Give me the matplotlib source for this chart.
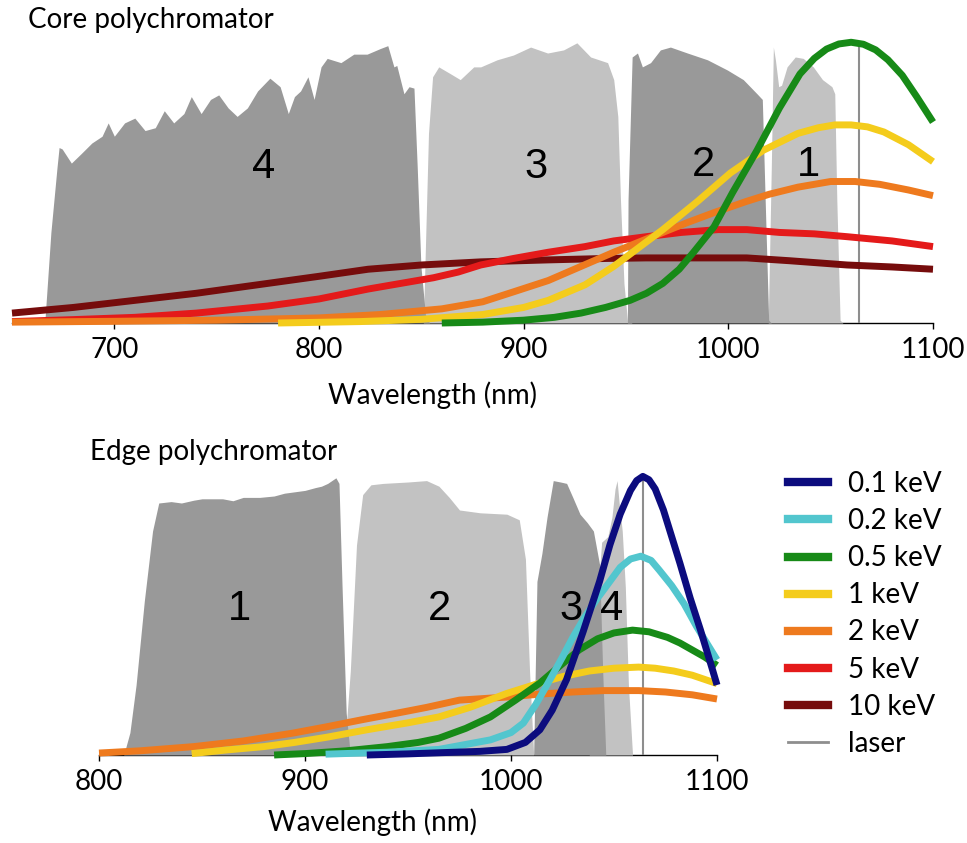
import matplotlib
matplotlib.use("Agg")
import matplotlib.pyplot as plt
from matplotlib.lines import Line2D

plt.rcParams['font.family'] = ['Lato', 'DejaVu Sans']

# ---- core polychromator (top) ----
core_f4_nm = [666, 669, 672, 673, 674.5, 679, 684, 689, 694, 697, 700, 705, 710, 715, 720, 724.4, 729, 734,
              737.6, 742.4, 747, 751, 755.6, 760, 765, 770, 776, 781, 785, 788, 791, 794.6, 797.6, 801, 804,
              810.7, 817, 823.5, 830, 833.6, 836.6, 838, 841.5, 844, 846.4, 848, 849.8, 852, 854]
core_f4_v = [0, 32, 55, 62, 61.5, 56.5, 60, 63.6, 66, 70.7, 66, 70.7, 72.4, 68, 69, 75, 70.7, 74,
             80, 74, 79, 80.6, 76, 73, 76, 82, 86.5, 83.5, 74, 80, 82, 87, 79, 90.5, 93.5,
             92, 95, 95, 97, 98, 90.5, 91, 81, 83.5, 83, 55, 20, 3, 0]

core_f3_nm = [851, 853.5, 855.5, 858.5, 864.4, 869, 875.6, 879, 887, 895, 903.4, 911.7, 919.5, 926, 932.7,
              941, 944, 946, 947.3, 949, 950.7, 953]
core_f3_v = [0, 67, 87, 90.5, 88, 86, 90.5, 90.5, 93, 94.7, 97.5, 95.4, 96.5, 99, 94,
             92, 86, 73, 43.5, 14, 1, 0]

core_f2_nm = [950.7, 951, 953, 955.6, 958, 962, 966.8, 971.7, 980, 989.8, 999.5, 1007.3, 1014, 1016.6,
              1018, 1019.7, 1021]
core_f2_v = [0, 43.5, 94, 95.4, 90.5, 92, 96.5, 97.5, 95.4, 93, 89.4, 86, 81, 79,
             43.5, 1, 0]

core_f1_nm = [1019.5, 1021, 1022, 1023, 1024.6, 1026, 1028.7, 1032.7, 1036.6, 1041.5, 1046, 1050.6, 1052,
              1053, 1054.6, 1056]
core_f1_v = [0, 55, 97.5, 93, 83.5, 84, 90.5, 94, 93.5, 90.5, 86, 83.5, 81,
             43.5, 1, 0]

core_labels = ['4', '3', '2', '1']
core_label_nm = [772.7, 905.8, 987.8, 1039]
core_label_v = [55, 55, 56, 56]

green_core_nm = [860, 880, 900, 915, 928, 940, 952, 960, 968, 976, 983, 993, 1002, 1014, 1025, 1035, 1042,
                 1048, 1054, 1060, 1066, 1072, 1078, 1085, 1092, 1100]
green_core_v = [0, 0.3, 1, 2, 3.5, 5.5, 8, 10.5, 14, 19, 25, 34, 46, 61, 76, 88, 93.5,
                96.8, 98.6, 99.2, 98.5, 96.5, 93, 87.5, 80, 71]

yellow_core_nm = [780, 820, 850, 880, 900, 912, 930, 944, 956, 968, 985, 1001, 1017, 1034, 1044, 1052, 1060,
                  1068, 1076, 1088, 1100]
yellow_core_v = [0, 0.5, 1.3, 3, 5.5, 8, 13.5, 20, 26.5, 33, 43, 53, 61, 67, 69, 70, 70,
                 69.3, 67.5, 63, 57]

orange_core_nm = [650, 700, 750, 800, 830, 860, 880, 895, 912, 928, 944, 956, 968, 980, 993, 1009, 1020,
                  1034, 1050, 1062, 1074, 1088, 1100]
orange_core_v = [0.3, 0.6, 1, 1.8, 3, 5, 7.5, 11, 15, 20, 25, 28.5, 32, 35.5, 39, 43, 45.5,
                 48, 50, 50, 49, 47, 45]

red_core_nm = [650, 680, 710, 740, 775, 800, 824, 840, 856, 868, 879, 895, 912, 930, 944, 960, 977, 995,
               1009, 1025, 1042, 1058, 1080, 1100]
red_core_v = [0.5, 1.2, 2, 3.5, 6, 8.5, 12, 14, 16, 18, 20.5, 22.8, 25, 27, 29, 30.5, 32, 33,
              33, 32, 31.5, 30.5, 29, 27]

darkred_core_nm = [650, 680, 710, 740, 775, 800, 824, 850, 879, 912, 940, 960, 985, 1009, 1030, 1058, 1080, 1100]
darkred_core_v = [3.5, 5.5, 8, 10.5, 14, 16.5, 19, 20.5, 21.6, 22.3, 22.8, 23, 23, 23, 22, 20.5, 19.8, 19]

# ---- edge polychromator (bottom) ----
edge_f1_nm = [812, 815, 818, 822, 826, 829, 835, 840, 846, 850, 860, 865, 870, 878, 885, 890, 895, 900,
              905, 908, 911, 915, 916.5, 918, 920, 922]
edge_f1_v = [0, 8, 25, 55, 80, 90, 90.5, 90, 91, 91.5, 91.5, 90.8, 92, 92, 92.5, 93.5, 94, 94.5,
             95.5, 96, 97, 99, 97, 60, 15, 0]

edge_f2_nm = [919, 922, 925, 928, 932, 938, 950, 959, 965, 970, 975, 985, 998, 1004, 1007, 1009, 1011]
edge_f2_v = [0, 30, 75, 93, 96.5, 97, 97.5, 98, 96, 92, 87.5, 86.5, 86, 84, 70, 30, 0]

edge_f3_nm = [1011, 1012.6, 1015, 1017.5, 1020.5, 1024, 1027, 1030, 1033.5, 1037, 1040, 1043, 1044.5, 1046]
edge_f3_v = [0, 62, 72, 85, 98, 97.5, 97, 92, 86, 83, 80, 68, 30, 0]

edge_f4_nm = [1038, 1041, 1044, 1047, 1049, 1050.5, 1051.5, 1052.5, 1054, 1055.5, 1057, 1059]
edge_f4_v = [0, 45, 76, 78, 85, 95, 98, 90, 80, 60, 25, 0]

edge_labels = ['1', '2', '3', '4']
edge_label_nm = [868.4, 965.5, 1029, 1049]
edge_label_v = [52, 52, 52, 52]

navy_edge_nm = [930, 950, 965, 985, 998, 1007, 1014, 1020, 1027, 1035, 1043, 1048, 1053, 1058, 1061, 1064,
                1067, 1070, 1074, 1078, 1082, 1087, 1092, 1098, 1100]
navy_edge_v = [0, 0.4, 0.8, 1.3, 2, 4.5, 9, 16, 27, 44, 62, 75, 86, 94.5, 98, 99.5,
               98.3, 95, 87.5, 78, 68.5, 56, 44.6, 30, 25]

cyan_edge_nm = [910, 940, 965, 990, 1000, 1006, 1012, 1019, 1025, 1030, 1036, 1042, 1048, 1053, 1058, 1063,
                1068, 1072, 1078, 1084, 1090, 1095, 1100]
cyan_edge_v = [0.3, 1, 2, 5.4, 8, 11.4, 18, 27, 35, 42, 49.5, 56, 62, 67, 70, 71,
               69.5, 66, 60.5, 54, 46, 40, 34]

green_edge_nm = [885, 900, 920, 940, 955, 965, 978, 990, 1002, 1014, 1024, 1033, 1042, 1050, 1059, 1067,
                 1076, 1082, 1088, 1094, 1100]
green_edge_v = [0, 0.5, 1.5, 3, 4.5, 6, 9.5, 13.6, 19.5, 25.7, 32, 37.5, 41.5, 43.6, 44.6, 44,
                42, 40, 37.5, 35, 32]

yellow_edge_nm = [845, 862, 880, 895, 911, 930, 950, 965, 980, 998, 1014, 1025, 1038, 1050, 1062, 1070,
                  1079, 1088, 1100]
yellow_edge_v = [0.5, 1.8, 3, 4.5, 6.4, 9, 11.5, 13.6, 17, 22, 25.7, 28, 30, 31, 31.4, 31,
                 30, 28.5, 25.5]

orange_edge_nm = [800, 820, 846, 870, 894, 910, 927, 945, 959, 975, 998, 1015, 1030, 1045, 1062, 1075,
                  1088, 1100]
orange_edge_v = [0.7, 1.5, 3, 5, 7.8, 10, 12.5, 15, 17, 19.6, 20.7, 21.8, 22.5, 23, 23, 22.5,
                 21.5, 20]

laser_nm = 1064

energies = ['0.1 keV', '0.2 keV', '0.5 keV', '1 keV', '2 keV', '5 keV', '10 keV']
colors = ['#0c0c7e', '#52c6ce', '#178a17', '#f4cc1c', '#ee7a1e', '#e41a1a', '#760c0c']
dark_grey = '#999999'
light_grey = '#c2c2c2'
laser_col = '#8e8e8e'
lw = 5

fig = plt.figure(figsize=(9.67, 8.43), dpi=100)
W, H = 967, 843

ax1 = fig.add_axes([12 / W, (H - 323) / H, 921 / W, 283 / H])
ax2 = fig.add_axes([99 / W, (H - 755) / H, 618 / W, 280 / H])

ax1.fill_between(core_f3_nm, core_f3_v, color=light_grey, lw=0, zorder=1)
ax1.fill_between(core_f1_nm, core_f1_v, color=light_grey, lw=0, zorder=1)
ax1.fill_between(core_f4_nm, core_f4_v, color=dark_grey, lw=0, zorder=1)
ax1.fill_between(core_f2_nm, core_f2_v, color=dark_grey, lw=0, zorder=1)
for t, x, y in zip(core_labels, core_label_nm, core_label_v):
    ax1.text(x, y, t, fontsize=30, family='Liberation Sans', ha='center', va='center', zorder=2)
ax1.plot([laser_nm, laser_nm], [0, 98], color=laser_col, lw=1.5, zorder=2)

core_curves = [(darkred_core_nm, darkred_core_v, colors[6]),
               (red_core_nm, red_core_v, colors[5]),
               (orange_core_nm, orange_core_v, colors[4]),
               (yellow_core_nm, yellow_core_v, colors[3]),
               (green_core_nm, green_core_v, colors[2])]
for x, y, c in core_curves:
    ax1.plot(x, y, color=c, lw=lw, solid_capstyle='butt', solid_joinstyle='round', zorder=3, clip_on=False)

ax2.fill_between(edge_f2_nm, edge_f2_v, color=light_grey, lw=0, zorder=1)
ax2.fill_between(edge_f4_nm, edge_f4_v, color=light_grey, lw=0, zorder=1)
ax2.fill_between(edge_f1_nm, edge_f1_v, color=dark_grey, lw=0, zorder=1)
ax2.fill_between(edge_f3_nm, edge_f3_v, color=dark_grey, lw=0, zorder=1)
for t, x, y in zip(edge_labels, edge_label_nm, edge_label_v):
    ax2.text(x, y, t, fontsize=30, family='Liberation Sans', ha='center', va='center', zorder=2)
ax2.plot([laser_nm, laser_nm], [0, 100], color=laser_col, lw=1.5, zorder=2)

edge_curves = [(orange_edge_nm, orange_edge_v, colors[4]),
               (yellow_edge_nm, yellow_edge_v, colors[3]),
               (green_edge_nm, green_edge_v, colors[2]),
               (cyan_edge_nm, cyan_edge_v, colors[1]),
               (navy_edge_nm, navy_edge_v, colors[0])]
for x, y, c in edge_curves:
    ax2.plot(x, y, color=c, lw=lw, solid_capstyle='butt', solid_joinstyle='round', zorder=3, clip_on=False)

for ax, lo, ticks in [(ax1, 650, [700, 800, 900, 1000, 1100]), (ax2, 800, [800, 900, 1000, 1100])]:
    ax.set_xlim(lo, 1100)
    ax.set_ylim(0, 100)
    ax.set_xticks(ticks)
    ax.set_yticks([])
    for s in ['top', 'left', 'right']:
        ax.spines[s].set_visible(False)
    ax.spines['bottom'].set_linewidth(1.0)
    ax.spines['bottom'].set_zorder(0.5)
    ax.tick_params(axis='x', direction='out', length=4, width=1, labelsize=20, pad=6, colors='black')
    ax.patch.set_alpha(0)

ax1.set_xlabel('Wavelength (nm)', fontsize=20)
ax1.xaxis.set_label_coords(432 / W, 1 - 381 / H, transform=fig.transFigure)
ax2.set_xlabel('Wavelength (nm)', fontsize=20)
ax2.xaxis.set_label_coords(373 / W, 1 - 808 / H, transform=fig.transFigure)

fig.text(28 / W, 1 - 20 / H, 'Core polychromator', fontsize=20, va='center', ha='left')
fig.text(90 / W, 1 - 452 / H, 'Edge polychromator', fontsize=20, va='center', ha='left')

handles = [Line2D([], [], color=c, lw=6) for c in colors]
handles.append(Line2D([], [], color=laser_col, lw=2))
fig.legend(handles, energies + ['laser'], loc='upper left', bbox_to_anchor=(788 / W, 1 - 471 / H),
           frameon=False, fontsize=20, handlelength=1.45, handletextpad=0.7, labelspacing=0.4,
           borderpad=0, borderaxespad=0)

fig.savefig('out.png', dpi=100)
